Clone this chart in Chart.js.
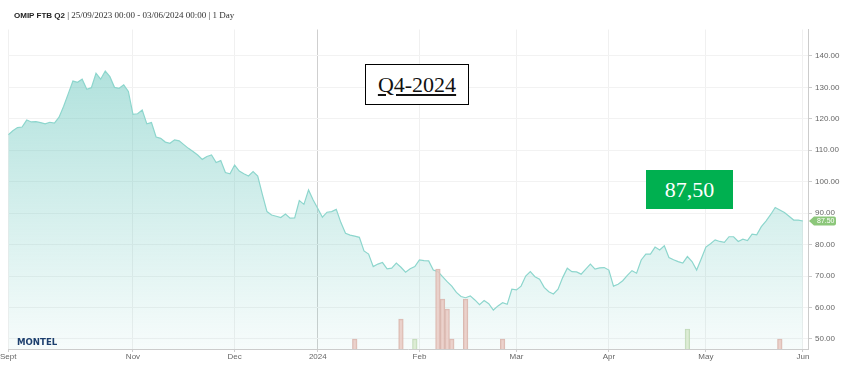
<!DOCTYPE html>
<html>
<head>
<meta charset="utf-8">
<script src="https://cdn.jsdelivr.net/npm/chart.js@4.4.1/dist/chart.umd.min.js"></script>
<style>
  body { margin: 0; background: #fff; }
  #wrap { position: relative; width: 846px; height: 371px; overflow: hidden; }
  #title { position: absolute; left: 14px; top: 9px; font: 9px 'Liberation Serif', serif; color: #333; white-space: nowrap; line-height: 12px; }
  #title b { font: bold 8px 'Liberation Sans', Arial, sans-serif; color: #222; }
  #logo { position: absolute; left: 17px; top: 337px; font: bold 8.6px 'DejaVu Sans', sans-serif; color: #1d3f6e; }
  #q4 { position: absolute; left: 365px; top: 64px; width: 104px; height: 41px; box-sizing: border-box; border: 1.5px solid #000; background: #fff;
        font: 22px 'Liberation Serif', serif; text-decoration: underline; display: flex; align-items: center; justify-content: center; color: #111; }
  #last { position: absolute; left: 646px; top: 170px; width: 87px; height: 39px; background: #00b050; color: #fff;
          font: 22px 'Liberation Serif', serif; display: flex; align-items: center; justify-content: center; }
</style>
</head>
<body>
<div id="wrap">
  <canvas id="chart" width="846" height="371"></canvas>
  <div id="title"><b>OMIP FTB Q2</b> | 25/09/2023 00:00 - 03/06/2024 00:00 | 1 Day</div>
  <div id="logo">MONTEL</div>
  <div id="q4">Q4-2024</div>
  <div id="last">87,50</div>
</div>
<script>
// month ticks (trading-day index where each label sits)
const monthNames = ['Sept', 'Nov', 'Dec', '2024', 'Feb', 'Mar', 'Apr', 'May', 'Jun'];
const monthIdx = [0, 27, 49, 67, 89, 110, 130, 151, 172];

// daily closes, EUR/MWh
const priceValues = [
  114.9, 116.2, 117.2, 117.4, 119.6, 119.0, 119.1, 118.8, 118.4, 118.9,
  118.6, 120.5, 124.0, 128.0, 132.0, 131.6, 132.6, 129.4, 129.9, 134.5,
  132.6, 135.2, 133.4, 130.0, 129.7, 130.8, 128.7, 121.4, 121.6, 122.8,
  118.4, 118.8, 114.2, 113.8, 112.6, 112.2, 113.3, 113.0, 111.8, 110.6,
  109.6, 108.5, 107.1, 108.0, 108.5, 106.1, 106.7, 102.9, 102.5, 105.3,
  103.4, 102.5, 101.8, 103.2, 101.8, 96.0, 90.5, 89.4, 89.0, 88.6,
  89.7, 88.4, 88.5, 94.0, 92.8, 97.4, 94.2, 91.5, 88.7, 90.3,
  90.5, 91.2, 87.0, 83.6, 83.0, 82.7, 82.3, 78.0, 77.0, 73.0,
  73.8, 74.3, 72.3, 72.5, 74.1, 72.8, 71.2, 72.3, 73.0, 75.1,
  74.9, 74.8, 71.9, 71.4, 69.8, 68.2, 66.8, 64.8, 63.5, 63.1,
  63.7, 62.4, 60.9, 62.2, 61.2, 59.2, 60.5, 61.5, 61.0, 65.8,
  65.6, 66.8, 70.0, 71.4, 69.8, 69.0, 66.4, 65.0, 64.3, 65.8,
  69.5, 72.5, 71.4, 71.3, 70.6, 72.2, 73.8, 72.2, 72.6, 72.7,
  71.9, 66.8, 67.4, 68.5, 70.2, 71.7, 70.9, 75.1, 77.0, 77.0,
  79.2, 78.3, 79.6, 75.9, 75.2, 74.6, 74.1, 76.2, 74.6, 71.9,
  75.5, 79.2, 80.3, 81.5, 81.0, 80.7, 82.5, 82.5, 81.0, 81.7,
  81.3, 83.3, 83.1, 85.7, 87.5, 89.5, 91.8, 91.0, 90.2, 89.0,
  87.8, 87.8, 87.5
];

const yTicks = [50, 60, 70, 80, 90, 100, 110, 120, 130, 140];

// traded volume bars
const volIdx = [75, 85, 88, 93, 94, 95, 96, 99, 107, 147, 167];
const volValues = [5, 15, 5, 40, 25, 20, 5, 25, 5, 10, 5];
const volSide = ['down', 'down', 'up', 'down', 'down', 'down', 'down', 'down', 'down', 'up', 'down'];

const lastValue = priceValues[priceValues.length - 1];

const lastFlag = {
  id: 'lastFlag',
  afterDraw(chart) {
    const c = chart.ctx;
    const x = chart.chartArea.right + 1;
    const y = chart.scales.y.getPixelForValue(lastValue);
    c.save();
    c.fillStyle = '#8cc77a';
    c.beginPath();
    c.moveTo(x, y);
    c.lineTo(x + 5, y - 4.5);
    c.lineTo(x + 25, y - 4.5);
    c.quadraticCurveTo(x + 27, y - 4.5, x + 27, y - 2.5);
    c.lineTo(x + 27, y + 2.5);
    c.quadraticCurveTo(x + 27, y + 4.5, x + 25, y + 4.5);
    c.lineTo(x + 5, y + 4.5);
    c.closePath();
    c.fill();
    c.fillStyle = '#fff';
    c.font = '7px "Liberation Sans", Arial, sans-serif';
    c.textBaseline = 'middle';
    c.fillText(lastValue.toFixed(2), x + 8, y + 0.5);
    c.restore();
  }
};

new Chart(document.getElementById('chart'), {
  type: 'line',
  data: {
    datasets: [
      {
        type: 'bar',
        data: volIdx.map((v, i) => ({ x: v, y: volValues[i] })),
        yAxisID: 'yVol',
        backgroundColor: volSide.map(s => s === 'up' ? 'rgba(215,232,205,0.8)' : 'rgba(232,200,192,0.8)'),
        borderColor: volSide.map(s => s === 'up' ? 'rgba(190,215,180,0.9)' : 'rgba(215,178,170,0.9)'),
        borderWidth: 1,
        barPercentage: 1,
        categoryPercentage: 1,
        order: 0
      },
      {
        data: priceValues.map((v, i) => ({ x: i, y: v })),
        yAxisID: 'y',
        borderColor: '#8dd6cd',
        borderWidth: 1.2,
        pointRadius: 0,
        tension: 0,
        fill: 'start',
        backgroundColor: (ctx) => {
          const a = ctx.chart.chartArea;
          if (!a) return 'rgba(140,214,205,0.3)';
          const g = ctx.chart.ctx.createLinearGradient(0, a.top, 0, a.bottom);
          g.addColorStop(0, 'rgba(95,195,185,0.55)');
          g.addColorStop(1, 'rgba(95,195,185,0.05)');
          return g;
        },
        order: 1
      }
    ]
  },
  options: {
    responsive: false,
    animation: false,
    layout: { autoPadding: false, padding: { left: 8, top: 29.5, right: 0, bottom: 0 } },
    plugins: { legend: { display: false }, tooltip: { enabled: false } },
    scales: {
      x: {
        type: 'linear',
        offset: false,
        min: 0,
        max: 173.1,
        afterBuildTicks: (axis) => { axis.ticks = monthIdx.map(v => ({ value: v })); },
        afterFit: (axis) => { axis.height = 22; },
        ticks: {
          autoSkip: false,
          maxRotation: 0,
          padding: 0,
          color: '#666',
          font: { family: '"Liberation Sans", Arial, sans-serif', size: 8 },
          callback: (v) => monthNames[monthIdx.indexOf(v)]
        },
        grid: {
          offset: false,
          color: (ctx) => ctx.tick && ctx.tick.value === 67 ? '#cfcfcf' : '#f0f0f0',
          tickColor: '#ccc',
          tickLength: 3
        },
        border: { display: true, color: '#ccc' }
      },
      y: {
        position: 'right',
        min: 46.8,
        max: 148.4,
        afterBuildTicks: (axis) => { axis.ticks = yTicks.map(v => ({ value: v })); },
        afterFit: (axis) => { axis.width = 38; },
        ticks: {
          padding: 3,
          color: '#666',
          font: { family: '"Liberation Sans Narrow", "Liberation Sans", Arial, sans-serif', size: 8 },
          callback: (v) => v.toFixed(2)
        },
        grid: { color: '#f2f2f2', tickColor: '#ccc', tickLength: 4 },
        border: { display: true, color: '#ccc' }
      },
      yVol: {
        display: false,
        min: 0,
        max: 160
      }
    }
  },
  plugins: [lastFlag]
});
</script>
</body>
</html>
